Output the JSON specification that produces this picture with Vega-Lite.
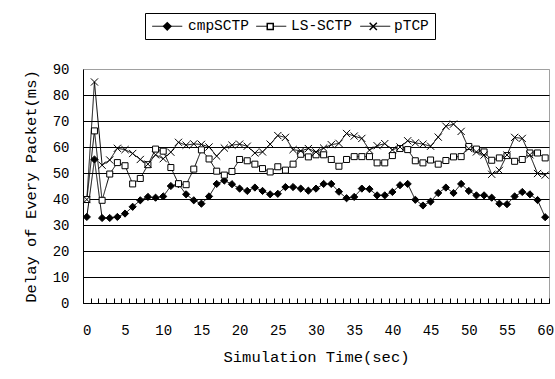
{
  "$schema": "https://vega.github.io/schema/vega-lite/v6.json",
  "width": 466,
  "height": 234,
  "autosize": {"type": "none"},
  "padding": {"left": 83, "top": 69, "right": 6, "bottom": 76},
  "background": "white",
  "config": {
    "view": {"stroke": "#a0a0a0", "strokeWidth": 1},
    "font": "Liberation Mono"
  },
  "data": {
    "values": [
      {"t": 0, "cmpSCTP": 33.1, "LS-SCTP": 39.8, "pTCP": 39.8},
      {"t": 1, "cmpSCTP": 55.2, "LS-SCTP": 66.2, "pTCP": 85},
      {"t": 2, "cmpSCTP": 32.7, "LS-SCTP": 39.5, "pTCP": 53},
      {"t": 3, "cmpSCTP": 32.7, "LS-SCTP": 49.6, "pTCP": 55},
      {"t": 4, "cmpSCTP": 33.1, "LS-SCTP": 54, "pTCP": 59.5},
      {"t": 5, "cmpSCTP": 34.4, "LS-SCTP": 52.8, "pTCP": 59},
      {"t": 6, "cmpSCTP": 37, "LS-SCTP": 45.8, "pTCP": 57.5},
      {"t": 7, "cmpSCTP": 39.5, "LS-SCTP": 47.9, "pTCP": 55.2},
      {"t": 8, "cmpSCTP": 40.8, "LS-SCTP": 53.2, "pTCP": 53.4},
      {"t": 9, "cmpSCTP": 40.5, "LS-SCTP": 59.2, "pTCP": 57},
      {"t": 10, "cmpSCTP": 41, "LS-SCTP": 58.4, "pTCP": 55.5},
      {"t": 11, "cmpSCTP": 45, "LS-SCTP": 52.1, "pTCP": 58},
      {"t": 12, "cmpSCTP": 45.7, "LS-SCTP": 45.9, "pTCP": 61.8},
      {"t": 13, "cmpSCTP": 41.8, "LS-SCTP": 45.5, "pTCP": 60.7},
      {"t": 14, "cmpSCTP": 39.5, "LS-SCTP": 51.5, "pTCP": 61.2},
      {"t": 15, "cmpSCTP": 38.2, "LS-SCTP": 58.9, "pTCP": 61},
      {"t": 16, "cmpSCTP": 41, "LS-SCTP": 55.4, "pTCP": 60},
      {"t": 17, "cmpSCTP": 45.8, "LS-SCTP": 50.7, "pTCP": 56.5},
      {"t": 18, "cmpSCTP": 47.1, "LS-SCTP": 49.2, "pTCP": 59.6},
      {"t": 19, "cmpSCTP": 45.7, "LS-SCTP": 50.6, "pTCP": 60.7},
      {"t": 20, "cmpSCTP": 44, "LS-SCTP": 55.2, "pTCP": 61.1},
      {"t": 21, "cmpSCTP": 43.1, "LS-SCTP": 54.7, "pTCP": 60.3},
      {"t": 22, "cmpSCTP": 44.4, "LS-SCTP": 53.4, "pTCP": 57.7},
      {"t": 23, "cmpSCTP": 43.1, "LS-SCTP": 51.7, "pTCP": 58.1},
      {"t": 24, "cmpSCTP": 41.8, "LS-SCTP": 50.4, "pTCP": 61.1},
      {"t": 25, "cmpSCTP": 42, "LS-SCTP": 52.4, "pTCP": 64.4},
      {"t": 26, "cmpSCTP": 44.6, "LS-SCTP": 51.1, "pTCP": 63.7},
      {"t": 27, "cmpSCTP": 44.6, "LS-SCTP": 53.4, "pTCP": 59},
      {"t": 28, "cmpSCTP": 44, "LS-SCTP": 57.2, "pTCP": 58.5},
      {"t": 29, "cmpSCTP": 43.2, "LS-SCTP": 56.2, "pTCP": 59.4},
      {"t": 30, "cmpSCTP": 44, "LS-SCTP": 57, "pTCP": 58.1},
      {"t": 31, "cmpSCTP": 45.8, "LS-SCTP": 57, "pTCP": 59.6},
      {"t": 32, "cmpSCTP": 45.8, "LS-SCTP": 55.2, "pTCP": 60.9},
      {"t": 33, "cmpSCTP": 42.8, "LS-SCTP": 52.6, "pTCP": 61.4},
      {"t": 34, "cmpSCTP": 40.3, "LS-SCTP": 55.2, "pTCP": 65.2},
      {"t": 35, "cmpSCTP": 40.8, "LS-SCTP": 56.3, "pTCP": 64.2},
      {"t": 36, "cmpSCTP": 44, "LS-SCTP": 56.3, "pTCP": 63.3},
      {"t": 37, "cmpSCTP": 43.8, "LS-SCTP": 56.3, "pTCP": 58.8},
      {"t": 38, "cmpSCTP": 41.4, "LS-SCTP": 53.9, "pTCP": 60.5},
      {"t": 39, "cmpSCTP": 41.4, "LS-SCTP": 53.9, "pTCP": 61.3},
      {"t": 40, "cmpSCTP": 42.7, "LS-SCTP": 56.7, "pTCP": 58.9},
      {"t": 41, "cmpSCTP": 45.3, "LS-SCTP": 59.4, "pTCP": 60},
      {"t": 42, "cmpSCTP": 45.8, "LS-SCTP": 59, "pTCP": 62.4},
      {"t": 43, "cmpSCTP": 39.7, "LS-SCTP": 54.7, "pTCP": 61.6},
      {"t": 44, "cmpSCTP": 37.5, "LS-SCTP": 53.9, "pTCP": 61.1},
      {"t": 45, "cmpSCTP": 39, "LS-SCTP": 55, "pTCP": 60.3},
      {"t": 46, "cmpSCTP": 42.3, "LS-SCTP": 53.4, "pTCP": 63.8},
      {"t": 47, "cmpSCTP": 44.4, "LS-SCTP": 54.8, "pTCP": 68},
      {"t": 48, "cmpSCTP": 42.3, "LS-SCTP": 56.2, "pTCP": 68.8},
      {"t": 49, "cmpSCTP": 45.8, "LS-SCTP": 56.3, "pTCP": 66},
      {"t": 50, "cmpSCTP": 43.1, "LS-SCTP": 60.2, "pTCP": 59.4},
      {"t": 51, "cmpSCTP": 41.4, "LS-SCTP": 59.2, "pTCP": 58.1},
      {"t": 52, "cmpSCTP": 41.4, "LS-SCTP": 58.1, "pTCP": 56.9},
      {"t": 53, "cmpSCTP": 40.5, "LS-SCTP": 54.9, "pTCP": 49.5},
      {"t": 54, "cmpSCTP": 38.2, "LS-SCTP": 55.8, "pTCP": 51},
      {"t": 55, "cmpSCTP": 38, "LS-SCTP": 56.7, "pTCP": 56.9},
      {"t": 56, "cmpSCTP": 41, "LS-SCTP": 54.5, "pTCP": 63.7},
      {"t": 57, "cmpSCTP": 42.7, "LS-SCTP": 55.2, "pTCP": 63.3},
      {"t": 58, "cmpSCTP": 41.8, "LS-SCTP": 57.7, "pTCP": 57},
      {"t": 59, "cmpSCTP": 39.6, "LS-SCTP": 57.7, "pTCP": 49.8},
      {"t": 60, "cmpSCTP": 33, "LS-SCTP": 55.8, "pTCP": 49.2}
    ]
  },
  "transform": [{"fold": ["cmpSCTP", "LS-SCTP", "pTCP"], "as": ["series", "delay"]}],
  "encoding": {
    "x": {
      "field": "t",
      "type": "ordinal",
      "scale": {"type": "band", "paddingInner": 0, "paddingOuter": 0},
      "axis": {
        "title": "Simulation Time(sec)",
        "tickBand": "extent",
        "tickSize": -5,
        "tickColor": "black",
        "domainColor": "black",
        "labelExpr": "datum.value % 5 === 0 ? datum.label : ''",
        "labelAngle": 0,
        "labelPadding": 25,
        "labelFontSize": 14,
        "labelColor": "black",
        "labelFont": "Liberation Mono",
        "labelOverlap": false,
        "titleFont": "Liberation Mono",
        "titleFontSize": 15.5,
        "titleFontWeight": "normal",
        "titleColor": "black",
        "titlePadding": 12,
        "grid": false
      }
    },
    "y": {
      "field": "delay",
      "type": "quantitative",
      "scale": {"domain": [0, 90], "nice": false},
      "axis": {
        "title": "Delay of Every Packet(ms)",
        "values": [0, 10, 20, 30, 40, 50, 60, 70, 80, 90],
        "ticks": false,
        "domainColor": "black",
        "grid": true,
        "gridColor": {"condition": {"test": "datum.value === 90", "value": "#a0a0a0"}, "value": "black"},
        "gridOpacity": 1,
        "labelPadding": 14,
        "labelFontSize": 14,
        "labelColor": "black",
        "labelFont": "Liberation Mono",
        "titleFont": "Liberation Mono",
        "titleFontSize": 15.5,
        "titleFontWeight": "normal",
        "titleColor": "black",
        "titlePadding": 14
      }
    }
  },
  "resolve": {"legend": {"shape": "independent", "strokeDash": "independent", "fill": "independent"}},
  "layer": [
    {
      "mark": {"type": "line", "color": "black", "strokeWidth": 1},
      "encoding": {
        "strokeDash": {
          "field": "series",
          "type": "nominal",
          "scale": {"domain": ["cmpSCTP", "LS-SCTP", "pTCP"], "range": [[1, 0], [1, 0], [1, 0]]},
          "legend": {
            "title": null,
            "orient": "none",
            "legendX": 68.75,
            "legendY": -58.25,
            "direction": "horizontal",
            "columns": 3,
            "strokeColor": null,
            "fillColor": null,
            "padding": 0,
            "symbolType": "stroke",
            "symbolSize": 900,
            "symbolStrokeWidth": 1,
            "symbolStrokeColor": "black",
            "symbolOpacity": 1,
            "symbolOffset": 0,
            "labelOffset": 0,
            "columnPadding": 69,
            "labelExpr": "''",
            "labelFontSize": 14.5
          }
        }
      }
    },
    {
      "mark": {"type": "point", "stroke": "black", "strokeWidth": 1, "size": 64, "opacity": 1},
      "encoding": {
        "shape": {
          "field": "series",
          "type": "nominal",
          "scale": {
            "domain": ["cmpSCTP", "LS-SCTP", "pTCP"],
            "range": ["M0,-0.9L0.9,0L0,0.9L-0.9,0Z", "M-0.75,-0.75L0.75,-0.75L0.75,0.75L-0.75,0.75Z", "M-0.9,-0.9L0.9,0.9M-0.9,0.9L0.9,-0.9"]
          },
          "legend": {
            "title": null,
            "orient": "none",
            "legendX": 62,
            "legendY": -56,
            "direction": "horizontal",
            "columns": 3,
            "strokeColor": "black",
            "fillColor": null,
            "padding": 6,
            "symbolSize": 64,
            "symbolOffset": 9,
            "labelOffset": 13.5,
            "columnPadding": 5,
            "labelFont": "Liberation Mono",
            "labelFontSize": 14.5,
            "labelColor": "black"
          }
        },
        "fill": {
          "field": "series",
          "type": "nominal",
          "scale": {"domain": ["cmpSCTP", "LS-SCTP", "pTCP"], "range": ["black", "white", "transparent"]},
          "legend": null
        }
      }
    }
  ]
}
